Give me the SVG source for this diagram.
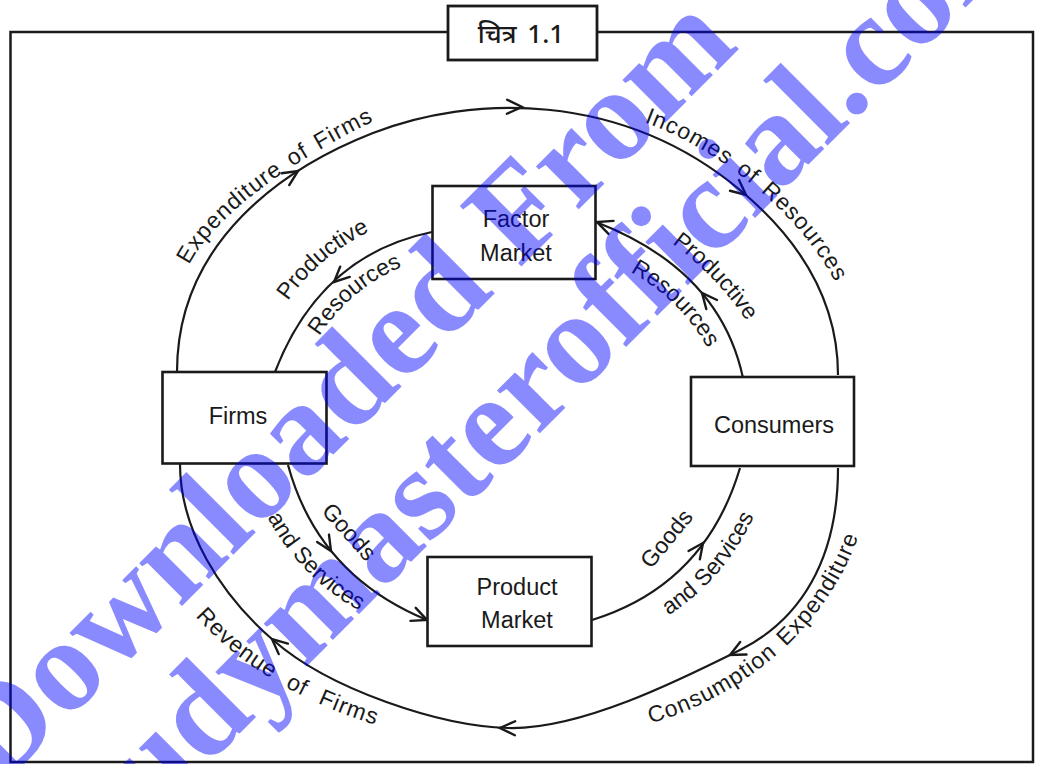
<svg xmlns="http://www.w3.org/2000/svg" width="1044" height="764" viewBox="0 0 1044 764">
<defs>
<style>
.frame{fill:none;stroke:#1a1a1a;stroke-width:2.5}
.tbox{fill:#fff;stroke:#1a1a1a;stroke-width:2.8}
.box{fill:#fff;stroke:#1a1a1a;stroke-width:2.6}
.flow{fill:none;stroke:#1a1a1a;stroke-width:2.2}
.ah{fill:none;stroke:#1a1a1a;stroke-width:2.4;stroke-linecap:round}
.nt{font-family:"Liberation Sans",Arial,sans-serif;font-size:23.5px;fill:#1a1a1a;text-anchor:middle}
.lb{font-family:"Liberation Sans",Arial,sans-serif;font-size:23px;fill:#1a1a1a;text-anchor:middle}
.lo{letter-spacing:1px;word-spacing:3px}
.tt{font-family:"Noto Sans","Noto Sans Devanagari","Lohit Devanagari","Liberation Sans",sans-serif;font-size:26px;font-weight:500;fill:#1a1a1a;text-anchor:middle;word-spacing:4px}
.wm{font-family:"Liberation Serif","Times New Roman",serif;font-weight:bold;font-size:132px;fill:#0000ff;fill-opacity:0.46}
</style>
<path id="ah" class="ah" d="M-15,-7 L0,0 L-15,7"/>
<path id="ta" d="M180,280 L193,258 C212,226 265,175 368,124 L390,113"/>
<path id="tb" d="M631,117 L654,126 C718,152 790,205 830,273 L843,295"/>
<path id="tc" d="M631,729 L655,722 C730,700 820,640 857,540 L866,517"/>
<path id="td" d="M181,600 L198,619 C235,660 295,700 373,724 L397,731"/>
<path id="te1" d="M274,322 L288,301 Q318,257 370,231 L392,220"/>
<path id="te2" d="M305,359 L318,338 Q350,288 404,266 L427,257"/>
<path id="tf1" d="M653,229 L673,244 Q715,275 746,320 L760,341"/>
<path id="tf2" d="M610,261 L632,273 Q680,300 707,347 L719,368"/>
<path id="tg1" d="M304,493 L383,581"/>
<path id="tg2" d="M253,491 L265,513 Q300,580 364,613 L386,624"/>
<path id="th1" d="M637,587 L708,500"/>
<path id="th2" d="M645,630 L666,617 Q725,580 755,514 L765,491"/>
</defs>

<rect width="1044" height="764" fill="#fff"/>

<g id="frame">
<rect class="frame" x="10.5" y="32" width="1022.5" height="730"/>
</g>

<g id="title">
<rect class="tbox" x="448" y="6" width="149" height="54"/>
<text class="tt" x="521" y="43">चित्र 1.1</text>
</g>

<g id="connectors">
<path class="flow" d="M177,372 C177,240 286,167 373,133 C470,95 620,90 740,190 C800,240 838,300 838,375"/>
<path class="flow" d="M838,468 C838,560 800,620 740,650 C680,680 580,730 508,728 C440,726 330,690 273,640 C220,594 180,530 180,464"/>
<path class="flow" d="M432,232 Q320,255 275,372"/>
<path class="flow" d="M743,378 Q720,270 596,222"/>
<path class="flow" d="M288,465 Q318,575 427,620"/>
<path class="flow" d="M592,620 Q705,585 740,468"/>
<use href="#ah" transform="translate(522,107) rotate(1)"/>
<use href="#ah" transform="translate(298,171) rotate(-33)"/>
<use href="#ah" transform="translate(746,195) rotate(40)"/>
<use href="#ah" transform="translate(730,655) rotate(153)"/>
<use href="#ah" transform="translate(500,728) rotate(181)"/>
<use href="#ah" transform="translate(272,639) rotate(221)"/>
<use href="#ah" transform="translate(334,282) rotate(137)"/>
<use href="#ah" transform="translate(597,222) rotate(201)"/>
<use href="#ah" transform="translate(702,293) rotate(230)"/>
<use href="#ah" transform="translate(331,551) rotate(58)"/>
<use href="#ah" transform="translate(427,620) rotate(22)"/>
<use href="#ah" transform="translate(703,543) rotate(-54)"/>
</g>

<g id="labels">
<text class="lb lo"><textPath href="#ta" startOffset="50%">Expenditure of  Firms</textPath></text>
<text class="lb lo"><textPath href="#tb" startOffset="50%">Incomes of Resources</textPath></text>
<text class="lb lo"><textPath href="#tc" startOffset="50%">Consumption  Expenditure</textPath></text>
<text class="lb lo" style="word-spacing:8px"><textPath href="#td" startOffset="50%">Revenue of Firms</textPath></text>
<text class="lb"><textPath href="#te1" startOffset="50%">Productive</textPath></text>
<text class="lb"><textPath href="#te2" startOffset="50%">Resources</textPath></text>
<text class="lb"><textPath href="#tf1" startOffset="50%">Productive</textPath></text>
<text class="lb"><textPath href="#tf2" startOffset="50%">Resources</textPath></text>
<text class="lb"><textPath href="#tg1" startOffset="50%">Goods</textPath></text>
<text class="lb"><textPath href="#tg2" startOffset="50%">and Services</textPath></text>
<text class="lb"><textPath href="#th1" startOffset="50%">Goods</textPath></text>
<text class="lb"><textPath href="#th2" startOffset="50%">and Services</textPath></text>
</g>

<g id="node-factor-market">
<rect class="box" x="432.5" y="186" width="163" height="93"/>
<text class="nt" x="516" y="227">Factor</text>
<text class="nt" x="516" y="261">Market</text>
</g>
<g id="node-firms">
<rect class="box" x="162.5" y="372" width="164" height="91.5"/>
<text class="nt" x="238" y="424">Firms</text>
</g>
<g id="node-consumers">
<rect class="box" x="691" y="377" width="163" height="89"/>
<text class="nt" x="774" y="433">Consumers</text>
</g>
<g id="node-product-market">
<rect class="box" x="427.5" y="557" width="164" height="89"/>
<text class="nt" x="517" y="595">Product</text>
<text class="nt" x="517" y="628">Market</text>
</g>

<g id="watermark">
<text class="wm" transform="translate(-2,790) rotate(-45)">Downloaded From</text>
<text class="wm" transform="translate(86,887) rotate(-45)">studymasterofficial.com</text>
</g>
</svg>
